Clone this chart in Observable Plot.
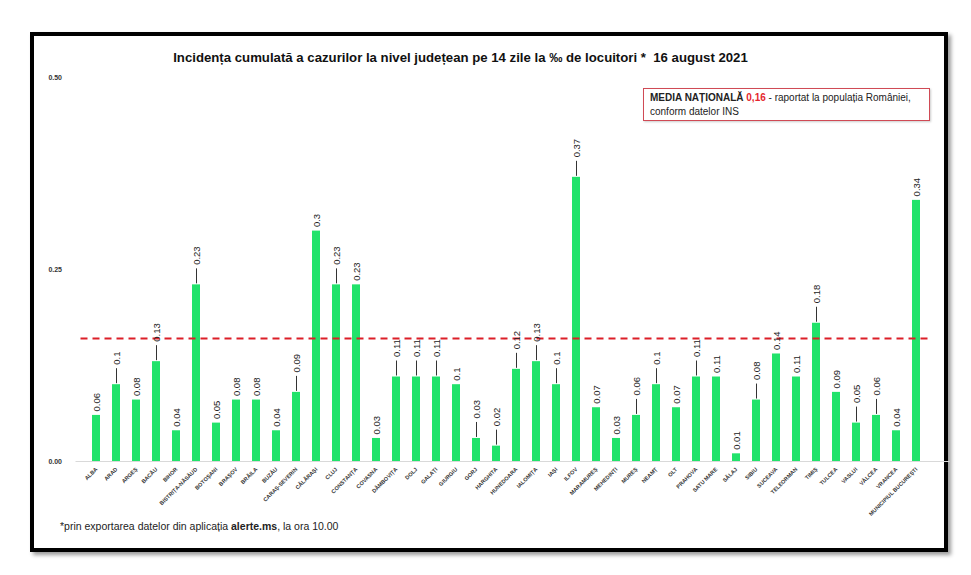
<!DOCTYPE html>
<html>
<head>
<meta charset="utf-8">
<script src="https://cdn.jsdelivr.net/npm/d3@7"></script>
<script src="https://cdn.jsdelivr.net/npm/@observablehq/plot@0.6"></script>
<style>
  html, body { margin: 0; padding: 0; background: #fff; }
  #page { position: relative; width: 971px; height: 575px; overflow: hidden; font-family: "Liberation Sans", Arial, sans-serif; }
  #frame { position: absolute; left: 30px; top: 32px; width: 918px; height: 520px; box-sizing: border-box; border: 4px solid #000; box-shadow: 3px 3px 4px #9a9a9a; }
  #chart { position: absolute; left: 0; top: 0; }
  #title { position: absolute; left: 0; width: 921px; top: 50px; text-align: center; font-family: "Liberation Sans Narrow", "Liberation Sans", sans-serif; font-weight: bold; font-size: 13.2px; color: #111; }
  #legend { position: absolute; left: 643px; top: 88px; width: 287px; height: 33px; box-sizing: border-box; border: 1.5px solid #d04a55; box-shadow: 1px 1px 2px #ccc; padding: 2px 0 0 6px; font-size: 10px; line-height: 13.5px; color: #222; background: #fff; white-space: nowrap; }
  #legend b.red { color: #e5262d; }
  #footer { position: absolute; left: 60px; top: 520px; font-size: 10.5px; color: #222; }
</style>
</head>
<body>
<div id="page">
  <div id="frame"></div>
  <div id="chart"></div>
  <div id="title">Incidența cumulată a cazurilor la nivel județean pe 14 zile la ‰ de locuitori *&nbsp; 16 august 2021</div>
  <div id="legend"><b>MEDIA NAȚIONALĂ</b> <b class="red">0,16</b> - raportat la populația României,<br>conform datelor INS</div>
  <div id="footer">*prin exportarea datelor din aplicația <b>alerte.ms</b>, la ora 10.00</div>
</div>
<script>
const counties = ["ALBA", "ARAD", "ARGEȘ", "BACĂU", "BIHOR", "BISTRIȚA-NĂSĂUD", "BOTOȘANI", "BRAȘOV", "BRĂILA", "BUZĂU",
  "CARAȘ-SEVERIN", "CĂLĂRAȘI", "CLUJ", "CONSTANȚA", "COVASNA", "DÂMBOVIȚA", "DOLJ", "GALAȚI", "GIURGIU", "GORJ",
  "HARGHITA", "HUNEDOARA", "IALOMIȚA", "IAȘI", "ILFOV", "MARAMUREȘ", "MEHEDINȚI", "MUREȘ", "NEAMȚ", "OLT",
  "PRAHOVA", "SATU MARE", "SĂLAJ", "SIBIU", "SUCEAVA", "TELEORMAN", "TIMIȘ", "TULCEA", "VASLUI", "VÂLCEA",
  "VRANCEA", "MUNICIPIUL BUCUREȘTI"];
const values = [0.06, 0.1, 0.08, 0.13, 0.04, 0.23, 0.05, 0.08, 0.08, 0.04,
  0.09, 0.3, 0.23, 0.23, 0.03, 0.11, 0.11, 0.11, 0.1, 0.03,
  0.02, 0.12, 0.13, 0.1, 0.37, 0.07, 0.03, 0.06, 0.1, 0.07,
  0.11, 0.11, 0.01, 0.08, 0.14, 0.11, 0.18, 0.09, 0.05, 0.06,
  0.04, 0.34];
// labels drawn with a callout line in the original
const calloutCounties = ["ARAD", "BACĂU", "BISTRIȚA-NĂSĂUD", "CARAȘ-SEVERIN", "CLUJ", "DÂMBOVIȚA", "DOLJ", "GALAȚI",
  "GORJ", "HARGHITA", "HUNEDOARA", "IALOMIȚA", "IAȘI", "ILFOV", "MUREȘ", "NEAMȚ", "PRAHOVA", "SIBIU", "TIMIȘ",
  "VASLUI", "VÂLCEA"];
const yTicks = [0, 0.25, 0.5];
const nationalAverage = 0.16;

const data = counties.map((c, i) => ({county: c, value: values[i], callout: calloutCounties.includes(c)}));
const withCallout = data.filter(d => d.callout);
const without = data.filter(d => !d.callout);

const marginTop = 77, marginBottom = 114;
const plotH = 575 - marginTop - marginBottom;
const perPx = 0.5 / plotH;
const leaderLen = 16 * perPx;

const chart = Plot.plot({
  width: 971,
  height: 575,
  marginTop, marginBottom,
  marginLeft: 67.5, marginRight: 27.5,
  style: {background: "transparent", overflow: "visible", fontFamily: "Liberation Sans, Arial, sans-serif"},
  x: {domain: counties, padding: 0.61, label: null},
  y: {domain: [0, 0.5], label: null},
  marks: [
    Plot.ruleY([0], {stroke: "#d9d9d9", strokeWidth: 1, insetLeft: 8, insetRight: -6}),
    Plot.barY(data, {x: "county", y: "value", fill: "#21e36b"}),
    Plot.ruleY([nationalAverage], {stroke: "#dc1f28", strokeWidth: 2, strokeDasharray: "7,5", insetLeft: 13, insetRight: 15}),
    Plot.ruleX(withCallout, {x: "county", y1: d => d.value + 1 * perPx, y2: d => d.value + leaderLen, stroke: "#333", strokeWidth: 1}),
    Plot.text(withCallout, {x: "county", y: "value", text: d => String(d.value), rotate: -90, textAnchor: "start", lineAnchor: "middle", dy: -20, fontSize: 9.5, fill: "#222"}),
    Plot.text(without, {x: "county", y: "value", text: d => String(d.value), rotate: -90, textAnchor: "start", lineAnchor: "middle", dy: -4, fontSize: 9.5, fill: "#222"}),
    Plot.axisY({ticks: yTicks, tickFormat: d3.format(".2f"), tickSize: 0, tickPadding: 6, fontSize: 7, fontWeight: "bold", fill: "#333", label: null}),
    Plot.axisX({tickRotate: -45, tickSize: 0, tickPadding: 7, fontSize: 5.5, fontWeight: "bold", fill: "#333", label: null})
  ]
});
document.getElementById("chart").appendChild(chart);
</script>
</body>
</html>
